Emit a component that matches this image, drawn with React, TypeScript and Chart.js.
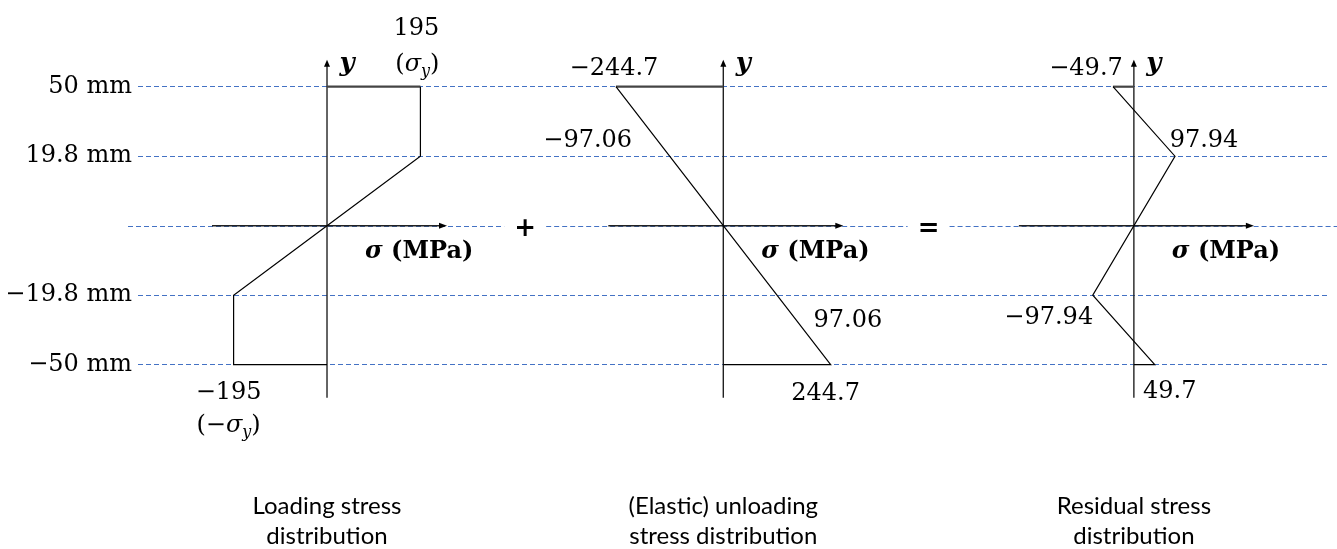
import React, { useEffect, useRef } from 'react';
import { Chart, registerables } from 'chart.js';
Chart.register(...registerables);

// ---- data ----
const LEVELS_MM = [50, 19.8, 0, -19.8, -50];
const LEVEL_KEYS = LEVELS_MM.map(String);

const LOADING_Y = [50, 50, 19.8, 0, -19.8, -50, -50];
const LOADING_STRESS = [0, 195, 195, 0, -195, -195, 0];
const UNLOADING_Y = [50, 50, 0, -50, -50];
const UNLOADING_STRESS = [0, -244.7, 0, 244.7, 0];
const RESIDUAL_Y = [50, 50, 19.8, -19.8, -50, -50];
const RESIDUAL_STRESS = [0, -49.7, 97.94, -97.94, 49.7, 0];

const PANEL_TITLES = [
  ['Loading stress', 'distribution'],
  ['(Elastic) unloading', 'stress distribution'],
  ['Residual stress', 'distribution'],
];
const OPERATORS = ['+', '='];
const AXIS_LABEL_Y = 'y';
const AXIS_LABEL_SIGMA = ['σ', ' (MPa)'];

const LOADING_NOTES = [
  { text: '195', x: 195, y: 50, dx: -4, dy: -52 },
  { text: '(σ_y)', x: 195, y: 50, dx: -3, dy: -16 },
  { text: '−195', x: -195, y: -50, dx: -5, dy: 34 },
  { text: '(−σ_y)', x: -195, y: -50, dx: -5, dy: 67 },
];
const UNLOADING_NOTES = [
  { text: '−244.7', x: -244.7, y: 50, dx: -2, dy: -12 },
  { text: '−97.06', x: -97.06, y: 19.8, dx: -93, dy: -9 },
  { text: '97.06', x: 97.06, y: -19.8, dx: 82, dy: 32 },
  { text: '244.7', x: 244.7, y: -50, dx: -5, dy: 35 },
];
const RESIDUAL_NOTES = [
  { text: '−49.7', x: -49.7, y: 50, dx: -27, dy: -12 },
  { text: '97.94', x: 97.94, y: 19.8, dx: 29, dy: -9 },
  { text: '−97.94', x: -97.94, y: -19.8, dx: -44, dy: 29 },
  { text: '49.7', x: 49.7, y: -50, dx: 15, dy: 33 },
];

// axis ranges of each panel (MPa)
const PANEL_RANGES = [
  [-394.6, 2089.8],
  [-1334.2, 1378.4],
  [-2372.1, 462.4],
];

const SERIF = '"DejaVu Serif", serif';
const SANS = 'Lato, "Open Sans", sans-serif';
const fmt = (v: number) => String(v).replace('-', '−');

type Part = { t: string; font: string; dy?: number; w?: number };

function richParts(text: string, size = 24): Part[] {
  const parts: Part[] = [];
  let i = 0;
  while (i < text.length) {
    const ch = text[i];
    if (ch === '_') {
      parts.push({ t: text[i + 1], font: `italic ${Math.round(size * 0.68)}px ${SERIF}`, dy: 5 });
      i += 2;
      continue;
    }
    if (ch === 'σ') parts.push({ t: ch, font: `italic ${size}px ${SERIF}` });
    else parts.push({ t: ch, font: `${size}px ${SERIF}` });
    i++;
  }
  return parts;
}

function drawRich(ctx: CanvasRenderingContext2D, parts: Part[], x: number, by: number, align: 'center' | 'left' = 'center') {
  let w = 0;
  parts.forEach((p) => {
    ctx.font = p.font;
    p.w = ctx.measureText(p.t).width;
    w += p.w;
  });
  let cx = align === 'center' ? x - w / 2 : x;
  ctx.textAlign = 'left';
  ctx.textBaseline = 'alphabetic';
  parts.forEach((p) => {
    ctx.font = p.font;
    ctx.fillText(p.t, cx, by + (p.dy || 0));
    cx += p.w || 0;
  });
}

const PANEL_NOTES = [LOADING_NOTES, UNLOADING_NOTES, RESIDUAL_NOTES];

const overlay = {
  id: 'overlay',
  beforeDatasetsDraw(chart: any) {
    const ctx: CanvasRenderingContext2D = chart.ctx;
    const ys = chart.scales.y;
    const y0 = ys.getPixelForValue(LEVEL_KEYS.indexOf('0'));
    const y0a = Math.round(y0) + 0.5;
    const yTop = ys.getPixelForValue(0) - 27;
    const yBot = ys.getPixelForValue(LEVEL_KEYS.length - 1) + 33;
    const zx = [0, 1, 2].map((p) => chart.scales['x' + (p + 1)].getPixelForValue(0));
    const ops = [(zx[0] + zx[1]) / 2, (zx[1] + zx[2]) / 2];
    ctx.save();
    // zero dashed line with gaps at operators
    ctx.strokeStyle = '#4472C4';
    ctx.lineWidth = 1;
    ctx.setLineDash([5, 3]);
    const segs = [
      [chart.chartArea.left - 10, ops[0] - 21],
      [ops[0] + 21, ops[1] - 21],
      [ops[1] + 21, chart.width],
    ];
    segs.forEach(([a, b]) => {
      ctx.beginPath();
      ctx.moveTo(a, y0a);
      ctx.lineTo(b, y0a);
      ctx.stroke();
    });
    ctx.setLineDash([]);
    // axes
    ctx.strokeStyle = '#222';
    ctx.fillStyle = '#000';
    ctx.lineWidth = 1.4;
    zx.forEach((x) => {
      ctx.beginPath();
      ctx.moveTo(x, yBot);
      ctx.lineTo(x, yTop + 6);
      ctx.stroke();
      ctx.beginPath();
      ctx.moveTo(x, yTop);
      ctx.lineTo(x - 3, yTop + 7);
      ctx.lineTo(x + 3, yTop + 7);
      ctx.closePath();
      ctx.fill();
      const xl = x - 115;
      const xr = x + 120;
      ctx.beginPath();
      ctx.moveTo(xl, y0);
      ctx.lineTo(xr - 7, y0);
      ctx.stroke();
      ctx.beginPath();
      ctx.moveTo(xr, y0);
      ctx.lineTo(xr - 8, y0 - 3);
      ctx.lineTo(xr - 8, y0 + 3);
      ctx.closePath();
      ctx.fill();
    });
    ctx.restore();
  },
  afterDatasetsDraw(chart: any) {
    const ctx: CanvasRenderingContext2D = chart.ctx;
    const ys = chart.scales.y;
    const y0 = ys.getPixelForValue(LEVEL_KEYS.indexOf('0'));
    const yTopLevel = ys.getPixelForValue(0);
    const zx = [0, 1, 2].map((p) => chart.scales['x' + (p + 1)].getPixelForValue(0));
    const ops = [(zx[0] + zx[1]) / 2, (zx[1] + zx[2]) / 2];
    ctx.save();
    ctx.fillStyle = '#000';
    zx.forEach((x, p) => {
      // y axis label
      ctx.font = `bold italic 26px ${SERIF}`;
      ctx.textAlign = 'center';
      ctx.textBaseline = 'alphabetic';
      ctx.fillText(AXIS_LABEL_Y, x + 20, yTopLevel - 16);
      // sigma label
      drawRich(
        ctx,
        [
          { t: AXIS_LABEL_SIGMA[0], font: `bold italic 24px ${SERIF}` },
          { t: AXIS_LABEL_SIGMA[1], font: `bold 24px ${SERIF}` },
        ],
        x + 38,
        y0 + 32,
        'left'
      );
      // notes
      const xs = chart.scales['x' + (p + 1)];
      PANEL_NOTES[p].forEach((n) => {
        const px = xs.getPixelForValue(n.x) + n.dx;
        const py = ys.getPixelForValue(LEVEL_KEYS.indexOf(String(n.y))) + n.dy;
        drawRich(ctx, richParts(n.text), px, py);
      });
      // captions
      ctx.font = `24px ${SANS}`;
      ctx.textAlign = 'center';
      ctx.textBaseline = 'alphabetic';
      ctx.fillStyle = '#000';
      ctx.fillText(PANEL_TITLES[p][0], x, 514);
      ctx.fillText(PANEL_TITLES[p][1], x, 544);
    });
    ctx.font = `bold 26px "DejaVu Sans", sans-serif`;
    ctx.textAlign = 'center';
    ctx.textBaseline = 'alphabetic';
    ops.forEach((x, i) => ctx.fillText(OPERATORS[i], x, y0 + 10));
    ctx.restore();
  },
};

const toPts = (xs: number[], ys: number[]) => xs.map((x, i) => ({ x, y: String(ys[i]) }));

export default function App() {
  const ref = useRef<HTMLCanvasElement>(null);
  useEffect(() => {
    const series = [
      { id: 'x1', data: toPts(LOADING_STRESS, LOADING_Y) },
      { id: 'x2', data: toPts(UNLOADING_STRESS, UNLOADING_Y) },
      { id: 'x3', data: toPts(RESIDUAL_STRESS, RESIDUAL_Y) },
    ];
    const xScale = (i: number) => ({
      type: 'linear',
      display: false,
      min: PANEL_RANGES[i][0],
      max: PANEL_RANGES[i][1],
    });
    const chart = new Chart(ref.current as HTMLCanvasElement, {
      type: 'line',
      data: {
        datasets: series.map((s) => ({
          data: s.data,
          xAxisID: s.id,
          yAxisID: 'y',
          borderColor: '#000',
          borderWidth: 1.2,
          pointRadius: 0,
          tension: 0,
          fill: false,
          clip: false as any,
          segment: {
            borderWidth: (c: any) => (c.p0.parsed.y === c.p1.parsed.y && c.p0.parsed.y === 0 ? 2.2 : 1.2),
            borderColor: (c: any) => (c.p0.parsed.y === c.p1.parsed.y && c.p0.parsed.y === 0 ? '#444' : '#000'),
          },
        })),
      } as any,
      options: {
        animation: false,
        responsive: true,
        maintainAspectRatio: false,
        events: [],
        layout: { padding: { top: 86.7, bottom: 184.3, left: 0, right: 9 } },
        plugins: { legend: { display: false }, tooltip: { enabled: false }, title: { display: false } },
        scales: {
          x1: xScale(0),
          x2: xScale(1),
          x3: xScale(2),
          y: {
            type: 'category',
            labels: LEVEL_KEYS,
            offset: false,
            border: { display: false, dash: [5, 3] },
            grid: {
              color: (c: any) => (LEVELS_MM[c.index] === 0 ? 'rgba(0,0,0,0)' : '#4472C4'),
              lineWidth: 1,
              drawTicks: false,
            },
            ticks: {
              color: '#000',
              autoSkip: false,
              padding: 6,
              font: { family: 'DejaVu Serif', size: 24 },
              callback: (_v: any, i: number) => (LEVELS_MM[i] === 0 ? '' : fmt(LEVELS_MM[i]) + ' mm'),
            },
            afterFit: (s: any) => {
              s.width = 138;
            },
          },
        } as any,
      },
      plugins: [overlay],
    });
    return () => chart.destroy();
  }, []);
  return (
    <div style={{ position: 'fixed', left: 0, top: 0, width: 1337, height: 549, background: '#fff' }}>
      <canvas ref={ref} />
    </div>
  );
}
